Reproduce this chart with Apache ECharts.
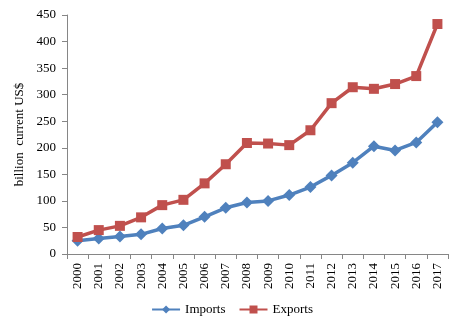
<!DOCTYPE html>
<html><head><meta charset="utf-8">
<script src="https://cdn.jsdelivr.net/npm/echarts@6/dist/echarts.min.js"></script>
<style>html,body{margin:0;padding:0;background:#fff}#c{width:464px;height:329px}</style>
</head><body><div id="c"></div>
<script>
const years = ['2000','2001','2002','2003','2004','2005','2006','2007','2008','2009','2010','2011','2012','2013','2014','2015','2016','2017'];
const imports = [25,29,33,37,48,54,70,87,97,100,111,126,148,172,203,195,210,248];
const exports = [32,45,53,69,92,102,133,169,209,208,205,233,284,314,311,320,335,433];
const yTicks = [0,50,100,150,200,250,300,350,400,450];
const font = 'Liberation Serif';
const chart = echarts.init(document.getElementById('c'));
chart.setOption({
  animation:false,
  grid:{left:67,right:16,top:15,bottom:75},
  legend:{top:298,left:'center',itemWidth:28,itemHeight:10,itemGap:13,
    textStyle:{fontFamily:font,fontSize:13,color:'#000'},data:['Imports','Exports']},
  xAxis:{type:'category',data:years,boundaryGap:true,
    axisLine:{lineStyle:{color:'#868686'}},
    axisTick:{show:true,alignWithLabel:false,length:5,lineStyle:{color:'#868686'}},
    axisLabel:{rotate:90,fontFamily:font,fontSize:13,color:'#000',margin:9}},
  yAxis:{type:'value',min:yTicks[0],max:yTicks[yTicks.length-1],interval:50,
    name:'billion  current US$',nameLocation:'middle',nameGap:40,
    nameTextStyle:{fontFamily:font,fontSize:13,color:'#000'},
    axisLine:{show:true,lineStyle:{color:'#868686'}},
    axisTick:{show:true,length:5,lineStyle:{color:'#868686'}},
    splitLine:{show:false},
    axisLabel:{fontFamily:font,fontSize:13,color:'#000',margin:11}},
  series:[
    {name:'Imports',type:'line',data:imports,symbol:'diamond',symbolSize:12,
      lineStyle:{color:'#4F81BD',width:3.5},itemStyle:{color:'#4F81BD'}},
    {name:'Exports',type:'line',data:exports,symbol:'rect',symbolSize:10,
      lineStyle:{color:'#C0504D',width:3.5},itemStyle:{color:'#C0504D'}}
  ]
});
</script></body></html>
